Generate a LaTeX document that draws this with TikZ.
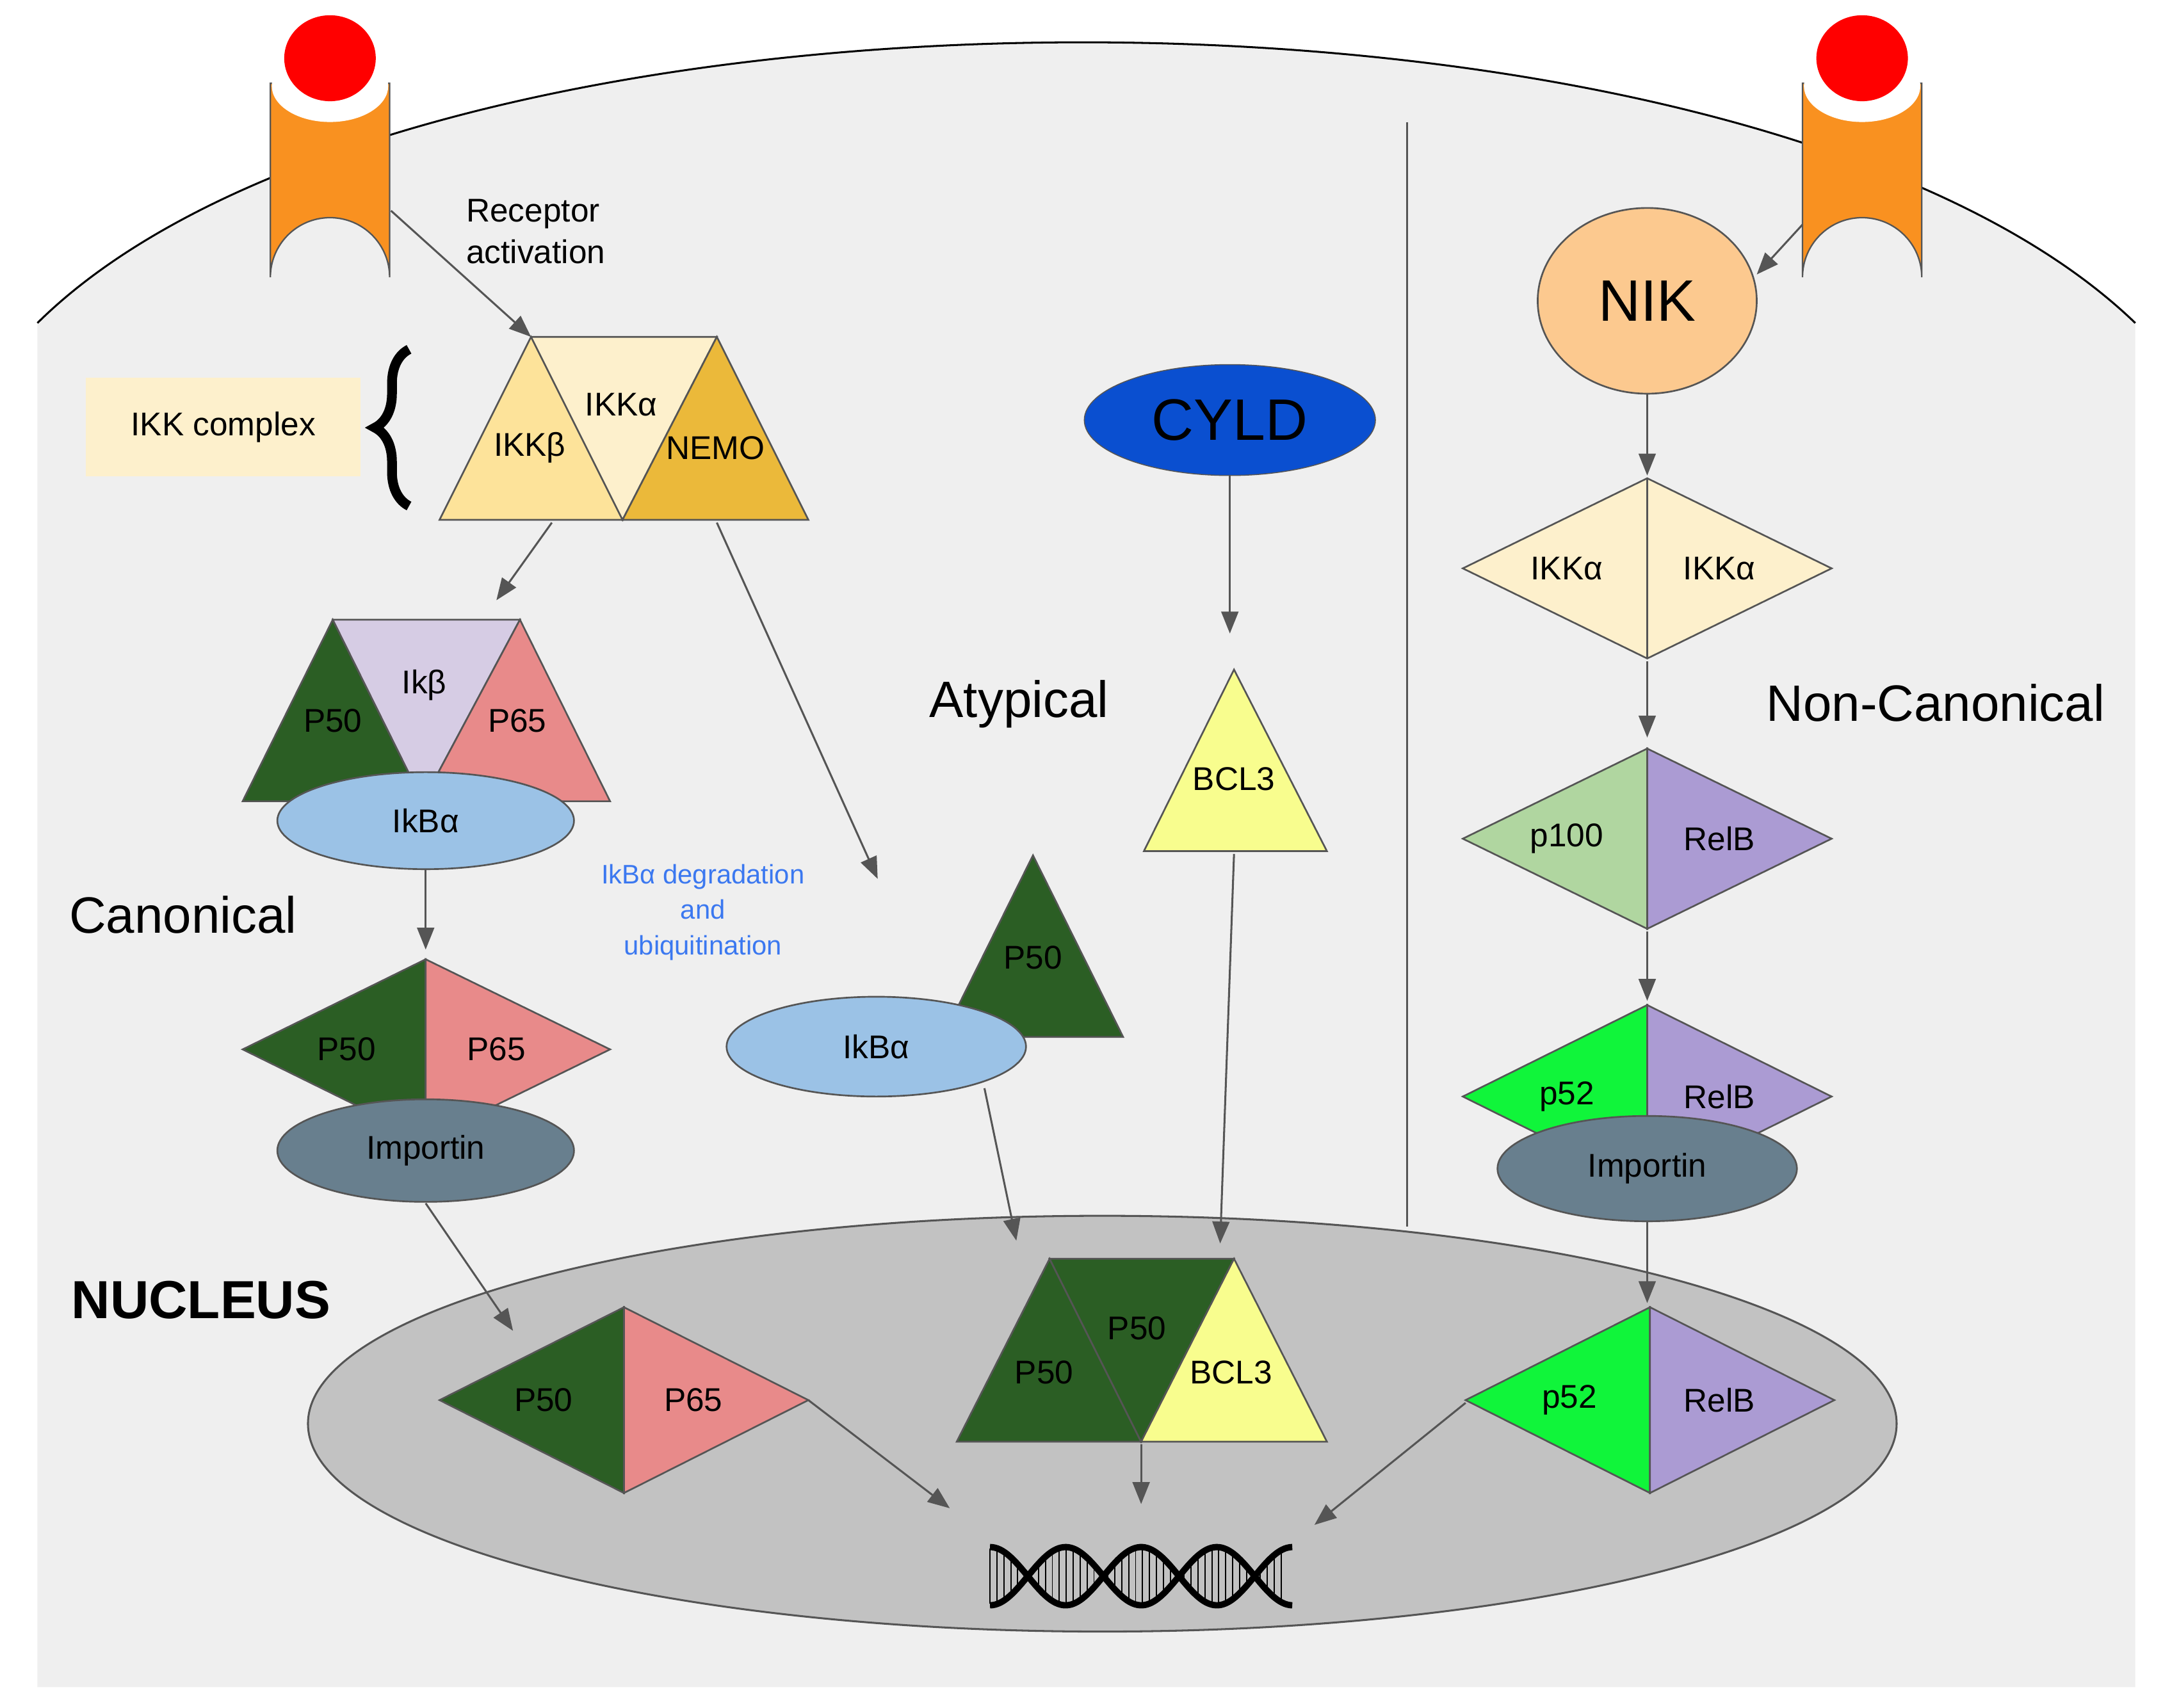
\documentclass[tikz,border=0pt]{standalone}
\usepackage{fontspec}
\setmainfont{Liberation Sans}
\usetikzlibrary{decorations.pathreplacing,arrows.meta,shapes.geometric}
\definecolor{cellbg}{HTML}{EFEFEF}
\definecolor{nuc}{HTML}{C2C2C2}
\definecolor{orng}{HTML}{F99120}
\definecolor{ikkb}{HTML}{FDE39A}
\definecolor{ikka}{HTML}{FDF0CC}
\definecolor{nemo}{HTML}{EBB93A}
\definecolor{dgreen}{HTML}{2B5E24}
\definecolor{lav}{HTML}{D6CCE4}
\definecolor{pink}{HTML}{E88A8A}
\definecolor{lblue}{HTML}{9BC2E6}
\definecolor{imp}{HTML}{687F8E}
\definecolor{cyld}{HTML}{0A4FD0}
\definecolor{bcl}{HTML}{F8FD8E}
\definecolor{nik}{HTML}{FCC98F}
\definecolor{p100}{HTML}{B0D6A0}
\definecolor{relb}{HTML}{AB9BD3}
\definecolor{p52}{HTML}{10F53A}
\definecolor{bluetxt}{HTML}{3B78F0}
\definecolor{edge}{HTML}{555555}
\tikzset{
 sh/.style={draw=edge,line width=0.7pt},
 arr/.style={draw=edge,line width=0.8pt,-{Triangle[length=9pt,width=7pt]}},
 lbl/.style={font=\fontsize{13.5}{15}\selectfont,inner sep=0pt},
 big/.style={font=\fontsize{21}{24}\selectfont,inner sep=0pt},
}
\begin{document}
\begin{tikzpicture}[x=0.02cm,y=-0.02cm]
\useasboundingbox (0,0) rectangle (1560,1232);
\fill[white] (0,0) rectangle (1560,1232);
% cell
\fill[cellbg] (27,233) .. controls (300,-37) and (1260,-37) .. (1540,233) -- (1540,1217) -- (27,1217) -- cycle;
\draw[black,line width=0.8pt] (27,233) .. controls (300,-37) and (1260,-37) .. (1540,233);
\draw[edge,line width=0.8pt] (1015,88) -- (1015,885);
% nucleus
\node[draw=edge,fill=nuc,ellipse,minimum width=22.92cm,minimum height=6cm,line width=0.8pt] (nucleus) at (795,1027) {};
% receptors
\foreach \x/\n in {238/recL,1343/recR}{
 \fill[orng,draw=edge,line width=0.6pt] (\x-43,60) -- (\x-43,200) arc[start angle=180,end angle=360,x radius=43,y radius=43] -- (\x+43,60) -- cycle;
 \fill[white] (\x,62) ellipse[x radius=42,y radius=26];
 \fill[red] (\x,42) ellipse[x radius=33,y radius=31];
 \coordinate (\n) at (\x,150);
}
% IKK complex
\draw[sh,fill=ikkb] (317,375) -- (383,243) -- (449,375) -- cycle;
\draw[sh,fill=ikka] (383,243) -- (517,243) -- (449,375) -- cycle;
\draw[sh,fill=nemo] (449,375) -- (517,243) -- (583,375) -- cycle;
\node[lbl] (ikkb) at (382,323) {IKKβ};
\node[lbl] (ikka) at (448,292) {IKKα};
\node[lbl] (nemo) at (516,323) {NEMO};
\node[fill=ikka,minimum width=3.96cm,minimum height=1.42cm,inner sep=0pt,lbl] (ikkbox) at (161,308) {IKK complex};
\draw[line width=4pt,decorate,decoration={brace,amplitude=14pt}] (295,365) -- (295,252);
\node[lbl,align=left,anchor=west] (recact) at (336,167) {Receptor\\[2pt]activation};
\coordinate (ikktop) at (383,243);
\draw[arr] (282,152) -- (ikktop);
% canonical
\draw[sh,fill=dgreen] (175,578) -- (240,447) -- (305,578) -- cycle;
\draw[sh,fill=lav] (240,447) -- (375,447) -- (305,578) -- cycle;
\draw[sh,fill=pink] (305,578) -- (375,447) -- (440,578) -- cycle;
\node[lbl] (c50) at (240,520) {P50};
\node[lbl] (cik) at (306,494) {Ikβ};
\node[lbl] (c65) at (373,520) {P65};
\node[sh,fill=lblue,ellipse,minimum width=4.28cm,minimum height=1.4cm,lbl] (ikba1) at (307,592) {IkBα};
\draw[arr] (398,377) -- (358,433);
\draw[arr] (ikba1.south) -- (307,685);
\draw[sh,fill=dgreen] (175,757) -- (307,692) -- (307,822) -- cycle;
\draw[sh,fill=pink] (307,692) -- (440,757) -- (307,822) -- cycle;
\node[lbl] (d50) at (250,757) {P50};
\node[lbl] (d65) at (358,757) {P65};
\node[sh,fill=imp,ellipse,minimum width=4.28cm,minimum height=1.48cm,lbl] (imp1) at (307,830) {Importin};
\draw[arr] (307,868) -- (370,960);
\node[big] (canon) at (132,660) {Canonical};
\node[font=\fontsize{22}{24}\selectfont\bfseries,inner sep=0pt] (nuclab) at (145,938) {NUCLEUS};
\draw[sh,fill=dgreen] (317,1010) -- (450,943) -- (450,1077) -- cycle;
\draw[sh,fill=pink] (450,943) -- (583,1010) -- (450,1077) -- cycle;
\node[lbl] (n50) at (392,1010) {P50};
\node[lbl] (n65) at (500,1010) {P65};
\coordinate (dna) at (822,1137);
\draw[arr] (583,1010) -- (685,1088);
% degradation
\draw[arr] (517,377) -- (633,634);
\node[inner sep=0pt,align=center,text=bluetxt,font=\fontsize{11}{14.6}\selectfont] (deg) at (507,658) {IkBα degradation\\and\\ubiquitination};
% atypical
\node[big] (atyp) at (735,508) {Atypical};
\draw[sh,fill=dgreen] (680,748) -- (745,617) -- (810,748) -- cycle;
\node[lbl] (a50) at (745,691) {P50};
\node[sh,fill=lblue,ellipse,minimum width=4.32cm,minimum height=1.44cm,lbl] (ikba2) at (632,755) {IkBα};
\draw[arr] (710,785) -- (733,895);
\node[draw=edge,fill=cyld,ellipse,minimum width=4.2cm,minimum height=1.6cm,inner sep=0pt,font=\fontsize{24}{26}\selectfont] (cyld) at (887,303) {CYLD};
\draw[arr] (cyld.south) -- (887,457);
\draw[sh,fill=bcl] (825,614) -- (890,483) -- (957,614) -- cycle;
\node[lbl] (bcl3a) at (890,562) {BCL3};
\draw[arr] (890,616) -- (880,897);
\draw[sh,fill=dgreen] (690,1040) -- (757,908) -- (823,1040) -- cycle;
\draw[sh,fill=dgreen] (757,908) -- (890,908) -- (823,1040) -- cycle;
\draw[sh,fill=bcl] (823,1040) -- (890,908) -- (957,1040) -- cycle;
\node[lbl] (b50a) at (753,990) {P50};
\node[lbl] (b50b) at (820,958) {P50};
\node[lbl] (bcl3b) at (888,990) {BCL3};
\draw[arr] (823,1042) -- (823,1085);
% DNA
\foreach \i in {0,...,42}{
  \draw[black,line width=0.5pt] ({714+5*\i},{1137-20*abs(cos(\i*16.5))}) -- ({714+5*\i},{1137+20*abs(cos(\i*16.5))});
}
\draw[black,line width=2.6pt,domain=0:218,samples=120,smooth,variable=\t] plot ({714+\t},{1137+21*cos(\t*3.3)});
\draw[black,line width=2.6pt,domain=0:218,samples=120,smooth,variable=\t] plot ({714+\t},{1137-21*cos(\t*3.3)});
% non-canonical
\node[sh,fill=nik,ellipse,minimum width=3.16cm,minimum height=2.68cm,inner sep=0pt,font=\fontsize{24}{26}\selectfont] (nik) at (1188,217) {NIK};
\draw[arr] (1300,162) -- (1267,198);
\draw[arr] (nik.south) -- (1188,343);
\draw[sh,fill=ikka] (1055,410) -- (1188,345) -- (1321,410) -- (1188,475) -- cycle;
\draw[sh] (1188,345) -- (1188,475);
\node[lbl] (nka1) at (1130,410) {IKKα};
\node[lbl] (nka2) at (1240,410) {IKKα};
\draw[arr] (1188,477) -- (1188,532);
\draw[sh,fill=p100] (1055,605) -- (1188,540) -- (1188,670) -- cycle;
\draw[sh,fill=relb] (1188,540) -- (1321,605) -- (1188,670) -- cycle;
\node[lbl] (p100) at (1130,605) {p100};
\node[lbl] (relb1) at (1240,605) {RelB};
\draw[arr] (1188,672) -- (1188,722);
\draw[sh,fill=p52] (1055,791) -- (1188,725) -- (1188,857) -- cycle;
\draw[sh,fill=relb] (1188,725) -- (1321,791) -- (1188,857) -- cycle;
\node[lbl] (p52a) at (1130,791) {p52};
\node[lbl] (relb2) at (1240,791) {RelB};
\node[sh,fill=imp,ellipse,minimum width=4.32cm,minimum height=1.52cm,lbl] (imp2) at (1188,843) {Importin};
\draw[arr] (imp2.south) -- (1188,940);
\draw[sh,fill=p52] (1057,1010) -- (1190,943) -- (1190,1077) -- cycle;
\draw[sh,fill=relb] (1190,943) -- (1323,1010) -- (1190,1077) -- cycle;
\node[lbl] (p52b) at (1132,1010) {p52};
\node[lbl] (relb3) at (1240,1010) {RelB};
\draw[arr] (1057,1012) -- (948,1100);
\node[big] (noncan) at (1396,507) {Non-Canonical};
\end{tikzpicture}
\end{document}
